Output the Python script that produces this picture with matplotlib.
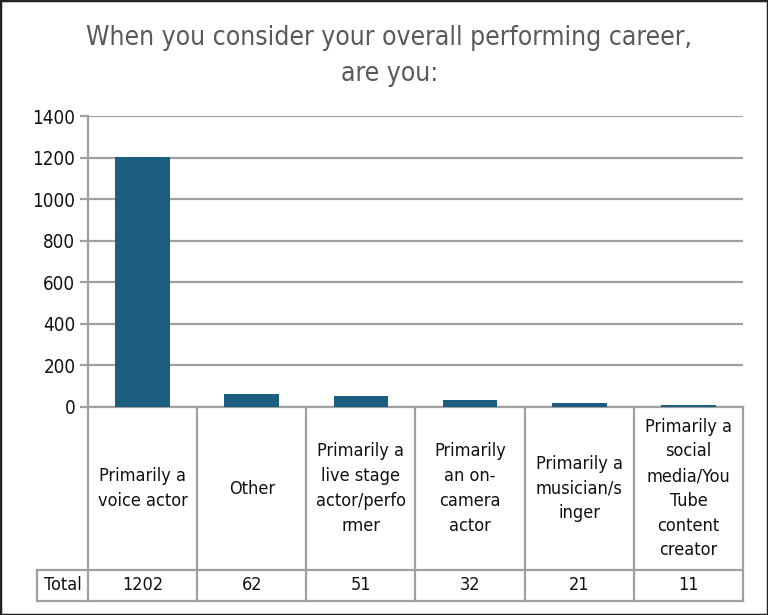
import matplotlib.pyplot as plt
from matplotlib.patches import Rectangle

categories = ["Primarily a\nvoice actor", "Other", "Primarily a\nlive stage\nactor/perfo\nrmer",
              "Primarily\nan on-\ncamera\nactor", "Primarily a\nmusician/s\ninger",
              "Primarily a\nsocial\nmedia/You\nTube\ncontent\ncreator"]
totals = [1202, 62, 51, 32, 21, 11]
row_label = "Total"
title = "When you consider your overall performing career,\nare you:"

plt.rcParams['font.family'] = ['DejaVu Sans']
plt.rcParams['font.stretch'] = 'condensed'
W, H = 768, 615
fig = plt.figure(figsize=(W / 100, H / 100), dpi=100)
fig.patches.append(Rectangle((0, 0), 1, 1, transform=fig.transFigure, fill=False,
                             edgecolor='#222222', linewidth=2.5))

left, right, top, bottom = 88, 743, 116, 407
ax = fig.add_axes([left / W, 1 - bottom / H, (right - left) / W, (bottom - top) / H])
x = range(len(categories))
ax.bar(x, totals, width=0.5, color='#1b5e80', zorder=3)
ax.set_xlim(-0.5, len(categories) - 0.5)
ax.set_ylim(0, 1400)
ax.set_yticks(range(0, 1401, 200))
ax.yaxis.grid(True, color='#a0a0a0', linewidth=1.6)
ax.set_axisbelow(True)
for s in ['top', 'right', 'bottom']:
    ax.spines[s].set_visible(False)
ax.spines['left'].set_color('#a0a0a0')
ax.spines['left'].set_linewidth(1.6)
ax.tick_params(axis='y', length=6, width=1.6, color='#a0a0a0', labelsize=13.5, labelcolor='#111111', pad=3)
ax.set_xticks([])

gray = '#a0a0a0'
ph = bottom - top
head_b = -(570 - bottom) / ph
tab_b = -(601 - bottom) / ph
lab_l = -0.5 - (left - 37) / ((right - left) / len(categories))
tr = ax.get_xaxis_transform()
n = len(categories)
# table lines
ax.plot([-0.5, n - 0.5], [0, 0], color=gray, lw=1.6, transform=tr, clip_on=False)
ax.plot([lab_l, n - 0.5], [head_b, head_b], color=gray, lw=1.6, transform=tr, clip_on=False)
ax.plot([lab_l, n - 0.5], [tab_b, tab_b], color=gray, lw=1.6, transform=tr, clip_on=False)
ax.plot([lab_l, lab_l], [head_b, tab_b], color=gray, lw=1.6, transform=tr, clip_on=False)
for i in range(n + 1):
    ax.plot([i - 0.5, i - 0.5], [0, tab_b], color=gray, lw=1.6, transform=tr, clip_on=False)
for i, (c, v) in enumerate(zip(categories, totals)):
    ax.text(i, head_b / 2, c, transform=tr, ha='center', va='center', fontsize=13,
            color='#111111', linespacing=1.48)
    ax.text(i, (head_b + tab_b) / 2, str(v), transform=tr, ha='center', va='center',
            fontsize=13, color='#111111')
ax.text((lab_l - 0.5) / 2, (head_b + tab_b) / 2, row_label, transform=tr, ha='center',
        va='center', fontsize=13, color='#111111')

fig.text(0.507, 1 - 56 / H, title, ha='center', va='center', fontsize=19, color='#595959',
         linespacing=1.5)

fig.savefig('out.png', dpi=100)
